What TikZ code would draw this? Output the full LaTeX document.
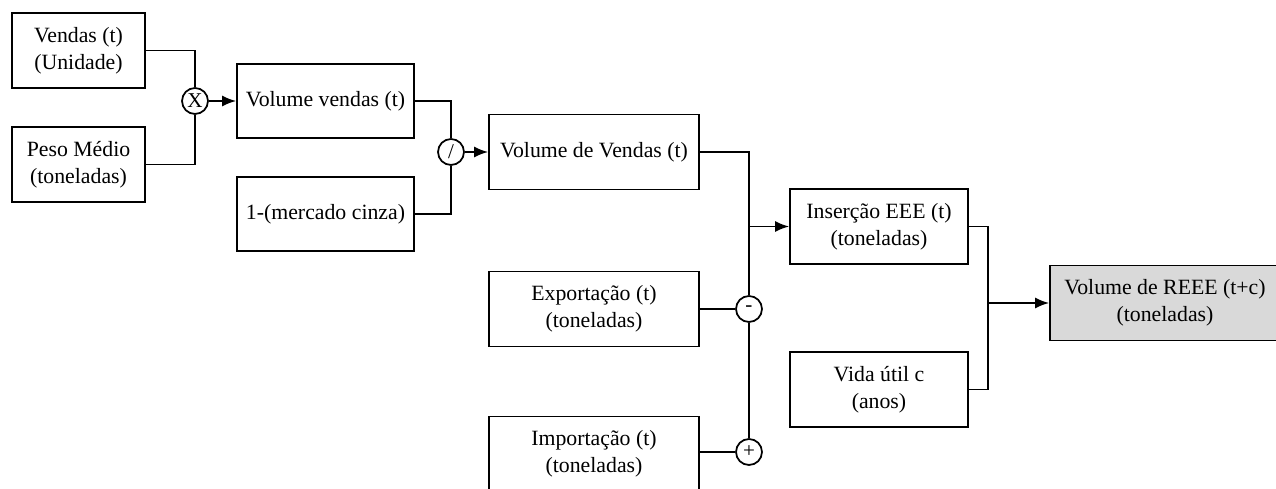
\documentclass[tikz,border=0pt]{standalone}
\usepackage{fontspec}
\setmainfont{Liberation Serif}
\usetikzlibrary{calc}
\usetikzlibrary{positioning}
\usetikzlibrary{arrows.meta}
\tikzstyle{blocknode} = [draw, rectangle, line width=1pt, minimum height=1.5cm, align=center, font=\fontsize{12.4}{15.5}\selectfont]
\tikzstyle{opnode} = [draw, circle, line width=1pt, minimum size=0.52cm, inner sep=0pt, font=\fontsize{12}{12}\selectfont]
\tikzstyle{resultnode} = [fill=black!15]
\tikzstyle{link} = [line width=1pt]
\tikzstyle{arrowlink} = [line width=1pt, -{Latex[length=2.8mm,width=2.2mm]}]

\begin{document}
\begin{tikzpicture}[x=0.02cm, y=-0.02cm]
    \useasboundingbox (0,0) rectangle (1276,489);

    \node[blocknode, minimum width=2.66cm] (vendas) at (78.5,50.5) {Vendas (t)\\(Unidade)};
    \node[blocknode, minimum width=2.66cm] (peso) at ($(vendas)+(0,114)$) {Peso Médio\\(toneladas)};
    \node[opnode] (mult) at (195,101) {X};
    \node[blocknode, minimum width=3.54cm, minimum height=1.48cm] (volvendas) at ($(mult)+(130.5,0)$) {Volume vendas (t)};
    \node[blocknode, minimum width=3.54cm, minimum height=1.48cm] (mercado) at ($(volvendas)+(0,113)$) {1-(mercado cinza)};
    \draw[link] (vendas.east) -| (mult.north);
    \draw[link] (peso.east) -| (mult.south);
    \draw[arrowlink] (mult) -- (volvendas);

    \node[opnode] (divi) at (451,152) {/};
    \node[blocknode, minimum width=4.2cm] (volvendasT) at ($(divi)+(143,0)$) {Volume de Vendas (t)};
    \draw[link] (volvendas.east) -| (divi.north);
    \draw[link] (mercado.east) -| (divi.south);
    \draw[arrowlink] (divi) -- (volvendasT);

    \node[blocknode, minimum width=4.2cm] (export) at ($(volvendasT)+(0,157)$) {Exportação (t)\\(toneladas)};
    \node[blocknode, minimum width=4.2cm] (import) at ($(export)+(0,145)$) {Importação (t)\\(toneladas)};
    \node[opnode] (minus) at ($(export)+(155,0)$) {-};
    \node[opnode] (plus) at ($(import)+(155,-2)$) {+};
    \draw[link] (export.east) -- (minus.west);
    \draw[link] (import.east |- plus) -- (plus.west);
    \draw[link] (minus.south) -- (plus.north);
    \draw[link] (volvendasT.east) -| (minus.north);

    \node[blocknode, minimum width=3.56cm] (insercao) at (879,226.5) {Inserção EEE (t)\\(toneladas)};
    \node[blocknode, minimum width=3.56cm] (vida) at ($(insercao)+(0,163)$) {Vida útil c\\(anos)};
    \coordinate (branchA) at (minus |- insercao);
    \draw[arrowlink] (branchA) -- (insercao);

    \node[blocknode, resultnode, minimum width=4.6cm] (reee) at (1165,303) {Volume de REEE (t+c)\\(toneladas)};
    \coordinate (joinB) at ($(insercao.east)+(19,0)$);
    \draw[link] (insercao.east) -- (joinB) |- (vida.east);
    \draw[arrowlink] (joinB |- reee) -- (reee);
\end{tikzpicture}
\end{document}
